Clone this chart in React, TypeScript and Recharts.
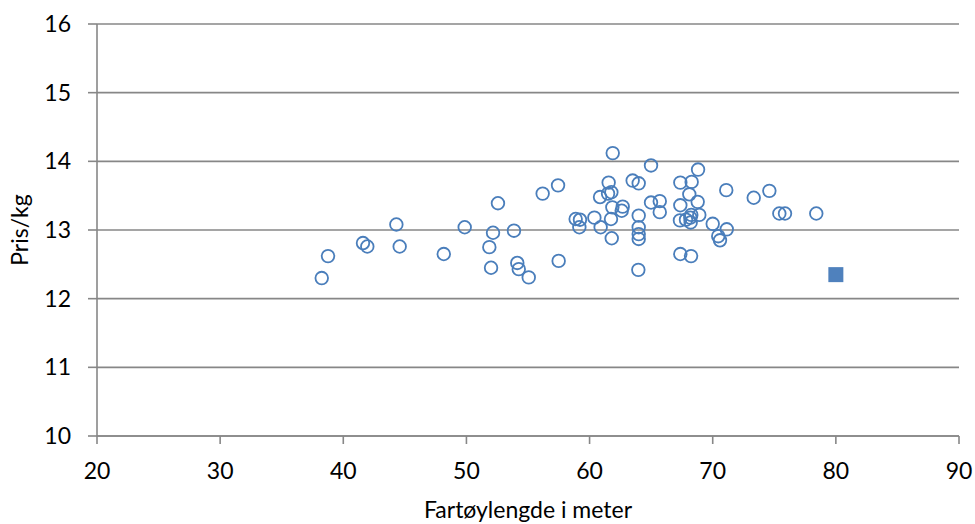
import { ScatterChart, Scatter, XAxis, YAxis, CartesianGrid } from "recharts";

// vessel length (m) and price per kg
const lengths = [
  38.25, 38.76, 41.60, 41.95, 44.31, 44.58, 48.16, 49.86, 52.56, 52.16,
  53.86, 51.86, 52.00, 54.13, 54.25, 55.06, 56.19, 57.44, 57.49, 61.88,
  64.99, 61.55, 61.50, 61.77, 60.85, 63.50, 63.99, 58.87, 59.22, 59.17,
  60.39, 60.90, 61.74, 61.85, 62.69, 62.61, 61.80, 63.99, 63.99, 63.99,
  63.99, 63.96, 64.99, 65.70, 65.70, 67.37, 68.29, 68.81, 68.10, 67.37,
  68.78, 68.91, 67.34, 67.83, 68.18, 68.21, 68.26, 70.00, 71.14, 70.45,
  70.59, 67.37, 68.24, 71.10, 73.33, 74.60, 75.41, 75.87, 78.41,
];
const prices = [
  12.30, 12.62, 12.81, 12.76, 13.08, 12.76, 12.65, 13.04, 13.39, 12.96,
  12.99, 12.75, 12.45, 12.52, 12.43, 12.31, 13.53, 13.65, 12.55, 14.12,
  13.94, 13.69, 13.53, 13.55, 13.48, 13.72, 13.68, 13.16, 13.15, 13.04,
  13.18, 13.04, 13.16, 13.33, 13.34, 13.28, 12.88, 13.21, 13.04, 12.94,
  12.87, 12.42, 13.40, 13.42, 13.26, 13.69, 13.70, 13.88, 13.52, 13.36,
  13.41, 13.22, 13.14, 13.15, 13.18, 13.11, 13.22, 13.09, 13.01, 12.91,
  12.85, 12.65, 12.62, 13.58, 13.47, 13.57, 13.24, 13.24, 13.24,
];
// highlighted vessel
const markedLength = [80];
const markedPrice = [12.35];

const xTicks = [20, 30, 40, 50, 60, 70, 80, 90];
const yTicks = [10, 11, 12, 13, 14, 15, 16];

const fleet = lengths.map((x, i) => ({ x, y: prices[i] }));
const marked = markedLength.map((x, i) => ({ x, y: markedPrice[i] }));

const BLUE = "#4A7EBB";
const GRID = "#878787";
const FONT = "Lato, 'Open Sans', sans-serif";

/* eslint-disable @typescript-eslint/no-explicit-any */
function OpenCircle(props: any) {
  const { cx, cy } = props;
  return <circle cx={cx} cy={cy} r={6.3} fill="none" stroke={BLUE} strokeWidth={1.8} />;
}

function FilledSquare(props: any) {
  const { cx, cy } = props;
  return <rect x={cx - 7.5} y={cy - 7.5} width={15} height={15} fill="#4F81BD" />;
}
/* eslint-enable @typescript-eslint/no-explicit-any */

export default function App() {
  const textStyle = { fill: "#000", fontSize: 23, fontFamily: FONT };
  return (
    <div style={{ position: "absolute", left: 0, top: 0, background: "#fff" }}>
      <ScatterChart width={975} height={524} margin={{ top: 24, right: 16, bottom: 0, left: 0 }}>
        <CartesianGrid vertical={false} stroke={GRID} strokeWidth={1.6} />
        <XAxis
          type="number"
          dataKey="x"
          domain={[20, 90]}
          ticks={xTicks}
          height={88}
          stroke={GRID}
          strokeWidth={1.6}
          tickSize={8}
          tickMargin={19}
          tick={textStyle}
          label={{
            value: "Fartøylengde i meter",
            position: "insideBottom",
            offset: 6,
            style: textStyle,
          }}
        />
        <YAxis
          type="number"
          dataKey="y"
          domain={[10, 16]}
          ticks={yTicks}
          width={97}
          stroke={GRID}
          strokeWidth={1.6}
          tickSize={9}
          tickMargin={17}
          tick={textStyle}
          label={{
            value: "Pris/kg",
            angle: -90,
            position: "insideLeft",
            offset: 20,
            style: { ...textStyle, textAnchor: "middle" },
          }}
        />
        <Scatter data={fleet} shape={OpenCircle} isAnimationActive={false} />
        <Scatter data={marked} shape={FilledSquare} isAnimationActive={false} />
      </ScatterChart>
    </div>
  );
}
